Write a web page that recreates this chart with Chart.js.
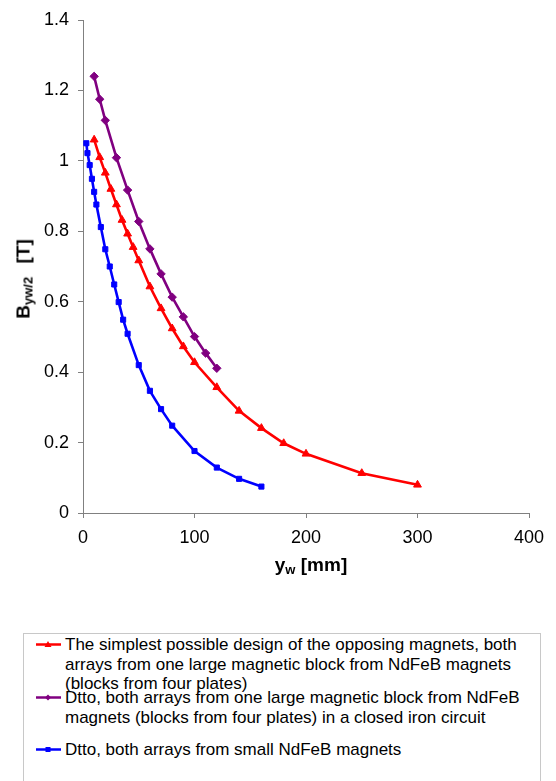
<!DOCTYPE html>
<html>
<head>
<meta charset="utf-8">
<script src="https://cdn.jsdelivr.net/npm/chart.js@4.4.0/dist/chart.umd.min.js"></script>
<style>
  body { margin: 0; background: #fff; font-family: "Liberation Sans", Arial, sans-serif; }
  #wrap { position: relative; width: 556px; height: 781px; overflow: hidden; }
  #chart { position: absolute; left: 0; top: 0; }
  .ytitle { position: absolute; left: 24px; top: 279px; transform: translate(-50%, -50%) rotate(-90deg);
            font-weight: bold; font-size: 19px; white-space: nowrap; color: #000; }
  .xtitle { position: absolute; left: 311px; top: 565px; transform: translate(-50%, -50%);
            font-weight: bold; font-size: 19px; white-space: nowrap; color: #000; }
  sub { font-size: 13px; vertical-align: -3px; }
  .ytitle sub { margin-right: 8px; }
  .legend { position: absolute; left: 23px; top: 633px; width: 518px; height: 200px;
            border: 1px solid #c8c8c8; box-sizing: border-box; }
  .item { position: absolute; left: 0; font-size: 17px; line-height: 19.5px; color: #000; }
  .item svg { position: absolute; left: 12px; top: 4px; }
  .item span { display: block; margin-left: 41px; width: 476px; }
</style>
</head>
<body>
<div id="wrap">
  <canvas id="chart" width="556" height="600"></canvas>
  <div class="ytitle">B<sub>yw/2</sub> [T]</div>
  <div class="xtitle">y<sub>w</sub> [mm]</div>
  <div class="legend" id="legend"></div>
</div>
<script>
document.addEventListener("DOMContentLoaded", () => {
  const seriesNames = [
    "The simplest possible design of the opposing magnets, both arrays from one large magnetic block from NdFeB magnets (blocks from four plates)",
    "Dtto, both arrays from one large magnetic block from NdFeB magnets (blocks from four plates) in a closed iron circuit",
    "Dtto, both arrays from small NdFeB magnets"
  ];

  const redX = [10, 15, 20, 25, 30, 35, 40, 45, 50, 60, 70, 80, 90, 100, 120, 140, 160, 180, 200, 250, 300];
  const redY = [1.06, 1.01, 0.966, 0.92, 0.876, 0.832, 0.793, 0.755, 0.717, 0.643, 0.581, 0.524, 0.473, 0.428, 0.357, 0.29, 0.241, 0.198, 0.168, 0.113, 0.08];

  const purpleX = [10, 15, 20, 30, 40, 50, 60, 70, 80, 90, 100, 110, 120];
  const purpleY = [1.24, 1.175, 1.115, 1.009, 0.917, 0.828, 0.75, 0.679, 0.613, 0.557, 0.501, 0.454, 0.411];

  const blueX = [3, 4, 6, 8, 10, 12, 16, 20, 24, 28, 32, 36, 40, 50, 60, 70, 80, 100, 120, 140, 160];
  const blueY = [1.05, 1.022, 0.988, 0.949, 0.912, 0.876, 0.812, 0.749, 0.7, 0.649, 0.599, 0.549, 0.509, 0.42, 0.347, 0.295, 0.248, 0.176, 0.129, 0.097, 0.075];

  const xTicks = [0, 100, 200, 300, 400];
  const yTicks = [0, 0.2, 0.4, 0.6, 0.8, 1, 1.2, 1.4];

  const colors = ["#ff0000", "#800080", "#0000ff"];
  const markers = ["triangle", "rectRot", "rect"];
  const markerSize = [4.5, 4.2, 3.6];

  function toPoints(xs, ys) {
    return xs.map((x, i) => ({ x: x, y: ys[i] }));
  }

  const datasets = [
    toPoints(redX, redY),
    toPoints(purpleX, purpleY),
    toPoints(blueX, blueY)
  ].map((data, i) => ({
    label: seriesNames[i],
    data: data,
    borderColor: colors[i],
    backgroundColor: colors[i],
    borderWidth: 2.6,
    pointStyle: markers[i],
    pointRadius: markerSize[i],
    pointBorderWidth: 1,
    showLine: true,
    tension: 0
  }));

  const axisFont = { family: "'Liberation Sans', Arial, sans-serif", size: 18 };

  new Chart(document.getElementById("chart").getContext("2d"), {
    type: "scatter",
    data: { datasets },
    options: {
      responsive: false,
      animation: false,
      layout: { padding: { left: 0, top: 20, right: 27, bottom: 0 } },
      plugins: { legend: { display: false }, tooltip: { enabled: false } },
      scales: {
        x: {
          min: 0, max: 400,
          afterBuildTicks: (s) => { s.ticks = xTicks.map((v) => ({ value: v })); },
          afterFit: (s) => { s.height = 87; },
          border: { color: "#808080", width: 1 },
          grid: { drawOnChartArea: false, drawTicks: true, tickLength: 5, color: "#808080" },
          ticks: { color: "#000", font: axisFont, padding: 9, maxRotation: 0, callback: (v) => String(v) }
        },
        y: {
          min: 0, max: 1.4,
          afterBuildTicks: (s) => { s.ticks = yTicks.map((v) => ({ value: v })); },
          afterFit: (s) => { s.width = 83; },
          border: { color: "#808080", width: 1 },
          grid: { drawOnChartArea: false, drawTicks: true, tickLength: 5, color: "#808080" },
          ticks: { color: "#000", font: axisFont, padding: 9, callback: (v) => String(v) }
        }
      }
    }
  });

  // legend built as html so long names can wrap
  const legendTops = [1, 54, 106];
  const legend = document.getElementById("legend");
  seriesNames.forEach((name, i) => {
    const item = document.createElement("div");
    item.className = "item";
    item.style.top = legendTops[i] + "px";
    let mark;
    if (i === 0) mark = `<polygon points="12,2 15.5,8 8.5,8" fill="${colors[i]}"/>`;
    else if (i === 1) mark = `<polygon points="12,2.5 15,5.5 12,8.5 9,5.5" fill="${colors[i]}"/>`;
    else mark = `<rect x="9.5" y="3" width="5" height="5" fill="${colors[i]}"/>`;
    item.innerHTML = `<svg width="26" height="11"><line x1="0" y1="5.5" x2="25" y2="5.5" stroke="${colors[i]}" stroke-width="2.5"/>${mark}</svg><span>${name}</span>`;
    legend.appendChild(item);
  });
});
</script>
</body>
</html>
